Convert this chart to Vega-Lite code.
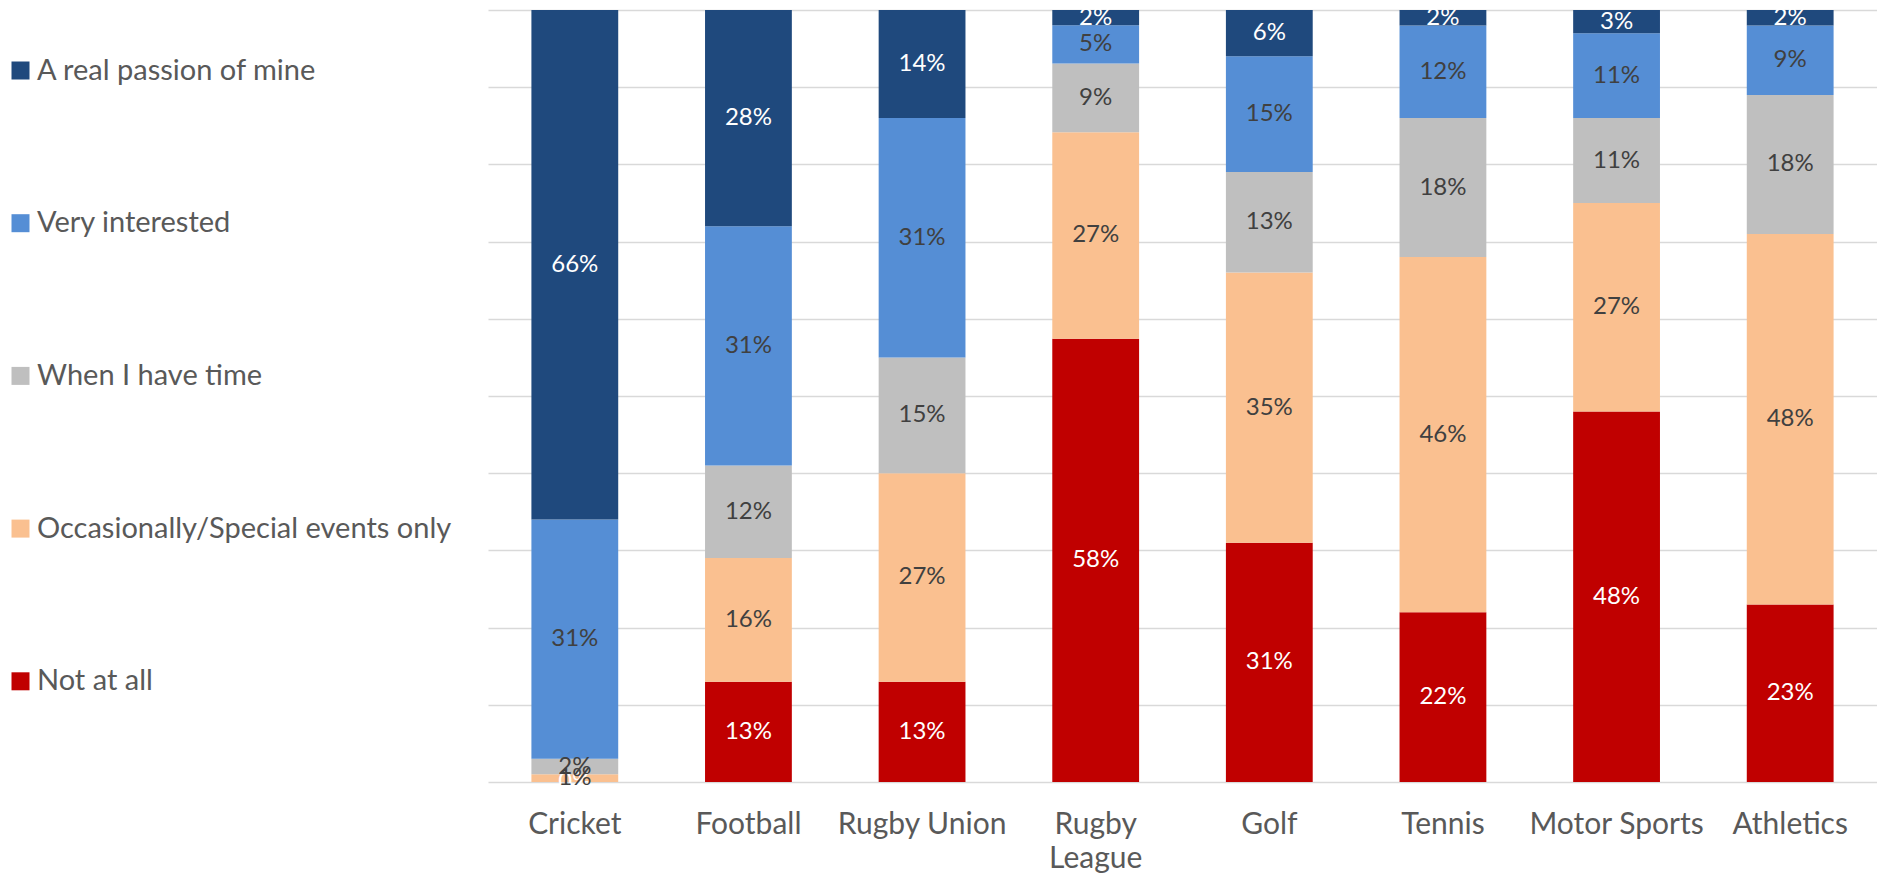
{
  "$schema": "https://vega.github.io/schema/vega-lite/v6.json",
  "width": 1389,
  "height": 772,
  "autosize": {"type": "none"},
  "padding": {"left": 488, "top": 10, "right": 0, "bottom": 99},
  "background": "white",
  "config": {"view": {"stroke": null}, "font": "Lato"},
  "data": {
    "values": [
      {"sport": "Cricket", "level": "Not at all", "value": 0},
      {"sport": "Cricket", "level": "Occasionally/Special events only", "value": 1},
      {"sport": "Cricket", "level": "When I have time", "value": 2},
      {"sport": "Cricket", "level": "Very interested", "value": 31},
      {"sport": "Cricket", "level": "A real passion of mine", "value": 66},
      {"sport": "Football", "level": "Not at all", "value": 13},
      {"sport": "Football", "level": "Occasionally/Special events only", "value": 16},
      {"sport": "Football", "level": "When I have time", "value": 12},
      {"sport": "Football", "level": "Very interested", "value": 31},
      {"sport": "Football", "level": "A real passion of mine", "value": 28},
      {"sport": "Rugby Union", "level": "Not at all", "value": 13},
      {"sport": "Rugby Union", "level": "Occasionally/Special events only", "value": 27},
      {"sport": "Rugby Union", "level": "When I have time", "value": 15},
      {"sport": "Rugby Union", "level": "Very interested", "value": 31},
      {"sport": "Rugby Union", "level": "A real passion of mine", "value": 14},
      {"sport": "Rugby League", "level": "Not at all", "value": 58},
      {"sport": "Rugby League", "level": "Occasionally/Special events only", "value": 27},
      {"sport": "Rugby League", "level": "When I have time", "value": 9},
      {"sport": "Rugby League", "level": "Very interested", "value": 5},
      {"sport": "Rugby League", "level": "A real passion of mine", "value": 2},
      {"sport": "Golf", "level": "Not at all", "value": 31},
      {"sport": "Golf", "level": "Occasionally/Special events only", "value": 35},
      {"sport": "Golf", "level": "When I have time", "value": 13},
      {"sport": "Golf", "level": "Very interested", "value": 15},
      {"sport": "Golf", "level": "A real passion of mine", "value": 6},
      {"sport": "Tennis", "level": "Not at all", "value": 22},
      {"sport": "Tennis", "level": "Occasionally/Special events only", "value": 46},
      {"sport": "Tennis", "level": "When I have time", "value": 18},
      {"sport": "Tennis", "level": "Very interested", "value": 12},
      {"sport": "Tennis", "level": "A real passion of mine", "value": 2},
      {"sport": "Motor Sports", "level": "Not at all", "value": 48},
      {"sport": "Motor Sports", "level": "Occasionally/Special events only", "value": 27},
      {"sport": "Motor Sports", "level": "When I have time", "value": 11},
      {"sport": "Motor Sports", "level": "Very interested", "value": 11},
      {"sport": "Motor Sports", "level": "A real passion of mine", "value": 3},
      {"sport": "Athletics", "level": "Not at all", "value": 23},
      {"sport": "Athletics", "level": "Occasionally/Special events only", "value": 48},
      {"sport": "Athletics", "level": "When I have time", "value": 18},
      {"sport": "Athletics", "level": "Very interested", "value": 9},
      {"sport": "Athletics", "level": "A real passion of mine", "value": 2}
    ]
  },
  "transform": [
    {"calculate": "indexof(['Not at all','Occasionally/Special events only','When I have time','Very interested','A real passion of mine'], datum.level)", "as": "rank"},
    {"stack": "value", "groupby": ["sport"], "sort": [{"field": "rank", "order": "ascending"}], "offset": "normalize", "as": ["y0", "y1"]},
    {"calculate": "(datum.y0 + datum.y1) / 2", "as": "mid"},
    {"calculate": "datum.value + '%'", "as": "label"}
  ],
  "encoding": {
    "x": {
      "field": "sport",
      "type": "nominal",
      "sort": null,
      "scale": {"paddingInner": 0.5, "paddingOuter": 0.25},
      "axis": {
        "title": null,
        "labelAngle": 0,
        "domain": false,
        "ticks": false,
        "labelPadding": 27,
        "labelFont": "Lato",
        "labelFontSize": 30,
        "labelColor": "#595959",
        "labelLineHeight": 34,
        "labelExpr": "datum.value == 'Rugby League' ? ['Rugby', 'League'] : datum.label"
      }
    }
  },
  "layer": [
    {
      "mark": {"type": "bar"},
      "encoding": {
        "y": {
          "field": "y0",
          "type": "quantitative",
          "scale": {"domain": [0, 1], "nice": false},
          "axis": {
            "title": null,
            "values": [0, 0.1, 0.2, 0.3, 0.4, 0.5, 0.6, 0.7, 0.8, 0.9, 1],
            "labels": false,
            "ticks": false,
            "domain": false,
            "grid": true,
            "gridColor": "#d9d9d9",
            "gridWidth": 1.5
          }
        },
        "y2": {"field": "y1"},
        "color": {
          "field": "level",
          "type": "nominal",
          "scale": {
            "domain": ["A real passion of mine", "Very interested", "When I have time", "Occasionally/Special events only", "Not at all"],
            "range": ["#1f497d", "#558ed5", "#bfbfbf", "#fac090", "#c00000"]
          },
          "legend": {
            "orient": "none",
            "legendX": -482,
            "legendY": 46,
            "title": null,
            "symbolType": "square",
            "symbolSize": 324,
            "symbolStrokeWidth": 0,
            "labelFont": "Lato",
            "labelFontSize": 29,
            "labelColor": "#595959",
            "labelOffset": 2,
            "rowPadding": 122.7,
            "labelLimit": 600
          }
        }
      }
    },
    {
      "mark": {"type": "text", "font": "Lato", "fontSize": 24, "baseline": "middle", "align": "center"},
      "encoding": {
        "y": {"field": "mid", "type": "quantitative"},
        "text": {"field": "label", "type": "nominal"},
        "color": {
          "condition": {"test": "datum.level == 'A real passion of mine' || datum.level == 'Not at all'", "value": "#ffffff"},
          "value": "#404040"
        }
      }
    }
  ]
}
